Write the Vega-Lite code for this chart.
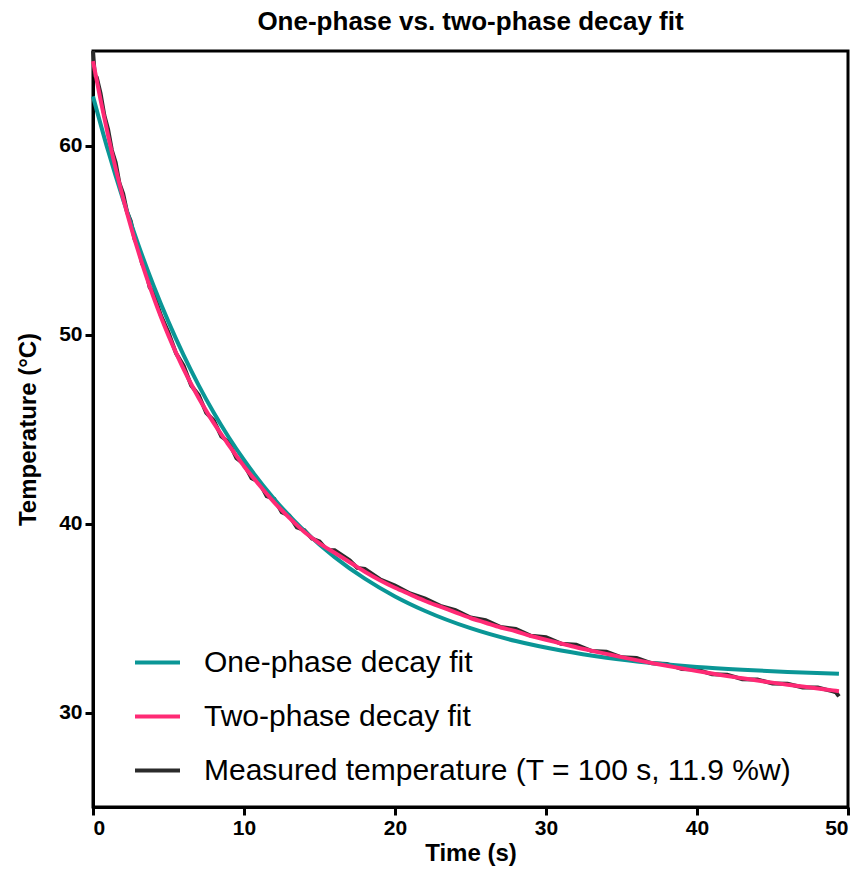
{
  "$schema": "https://vega.github.io/schema/vega-lite/v6.json",
  "autosize": "none",
  "padding": {"left": 93, "top": 51, "right": 12, "bottom": 63},
  "width": 755,
  "height": 756,
  "background": "white",
  "title": {
    "text": "One-phase vs. two-phase decay fit",
    "font": "Liberation Sans",
    "fontSize": 26,
    "fontWeight": "bold",
    "color": "black",
    "anchor": "middle",
    "offset": 8
  },
  "config": {
    "view": {"stroke": "black", "strokeWidth": 3},
    "axis": {
      "domainColor": "black",
      "domainWidth": 3,
      "tickColor": "black",
      "tickWidth": 3,
      "tickSize": 8,
      "grid": false,
      "labelColor": "black",
      "titleColor": "black"
    },
    "legend": {
      "orient": "none",
      "legendX": 40,
      "legendY": 587,
      "labelFont": "Liberation Sans",
      "labelFontSize": 30,
      "labelColor": "black",
      "symbolType": "stroke",
      "symbolSize": 2025,
      "symbolStrokeWidth": 4,
      "labelOffset": 22,
      "rowPadding": 14,
      "labelLimit": 800
    }
  },
  "datasets": {
    "curves": [
      {"series": "Measured temperature (T = 100 s, 11.9 %w)", "t": 0, "temp": 65.0},
      {"series": "Measured temperature (T = 100 s, 11.9 %w)", "t": 0.12, "temp": 63.7},
      {"series": "Measured temperature (T = 100 s, 11.9 %w)", "t": 0.25, "temp": 63.6},
      {"series": "Measured temperature (T = 100 s, 11.9 %w)", "t": 0.5, "temp": 62.75},
      {"series": "Measured temperature (T = 100 s, 11.9 %w)", "t": 0.75, "temp": 61.6},
      {"series": "Measured temperature (T = 100 s, 11.9 %w)", "t": 1.0, "temp": 60.85},
      {"series": "Measured temperature (T = 100 s, 11.9 %w)", "t": 1.25, "temp": 59.75},
      {"series": "Measured temperature (T = 100 s, 11.9 %w)", "t": 1.5, "temp": 59.1},
      {"series": "Measured temperature (T = 100 s, 11.9 %w)", "t": 1.75, "temp": 58.0},
      {"series": "Measured temperature (T = 100 s, 11.9 %w)", "t": 2.0, "temp": 57.45},
      {"series": "Measured temperature (T = 100 s, 11.9 %w)", "t": 2.25, "temp": 56.5},
      {"series": "Measured temperature (T = 100 s, 11.9 %w)", "t": 2.5, "temp": 56.0},
      {"series": "Measured temperature (T = 100 s, 11.9 %w)", "t": 2.75, "temp": 55.05},
      {"series": "Measured temperature (T = 100 s, 11.9 %w)", "t": 3.0, "temp": 54.65},
      {"series": "Measured temperature (T = 100 s, 11.9 %w)", "t": 3.25, "temp": 53.75},
      {"series": "Measured temperature (T = 100 s, 11.9 %w)", "t": 3.5, "temp": 53.4},
      {"series": "Measured temperature (T = 100 s, 11.9 %w)", "t": 3.75, "temp": 52.5},
      {"series": "Measured temperature (T = 100 s, 11.9 %w)", "t": 4.0, "temp": 52.2},
      {"series": "Measured temperature (T = 100 s, 11.9 %w)", "t": 4.5, "temp": 51.0},
      {"series": "Measured temperature (T = 100 s, 11.9 %w)", "t": 5.0, "temp": 50.1},
      {"series": "Measured temperature (T = 100 s, 11.9 %w)", "t": 5.5, "temp": 49.0},
      {"series": "Measured temperature (T = 100 s, 11.9 %w)", "t": 6.0, "temp": 48.35},
      {"series": "Measured temperature (T = 100 s, 11.9 %w)", "t": 6.5, "temp": 47.3},
      {"series": "Measured temperature (T = 100 s, 11.9 %w)", "t": 7.0, "temp": 46.8},
      {"series": "Measured temperature (T = 100 s, 11.9 %w)", "t": 7.5, "temp": 45.85},
      {"series": "Measured temperature (T = 100 s, 11.9 %w)", "t": 8.0, "temp": 45.45},
      {"series": "Measured temperature (T = 100 s, 11.9 %w)", "t": 8.5, "temp": 44.6},
      {"series": "Measured temperature (T = 100 s, 11.9 %w)", "t": 9.0, "temp": 44.3},
      {"series": "Measured temperature (T = 100 s, 11.9 %w)", "t": 9.5, "temp": 43.45},
      {"series": "Measured temperature (T = 100 s, 11.9 %w)", "t": 10, "temp": 43.15},
      {"series": "Measured temperature (T = 100 s, 11.9 %w)", "t": 10.5, "temp": 42.4},
      {"series": "Measured temperature (T = 100 s, 11.9 %w)", "t": 11, "temp": 42.2},
      {"series": "Measured temperature (T = 100 s, 11.9 %w)", "t": 11.5, "temp": 41.45},
      {"series": "Measured temperature (T = 100 s, 11.9 %w)", "t": 12, "temp": 41.3},
      {"series": "Measured temperature (T = 100 s, 11.9 %w)", "t": 12.5, "temp": 40.6},
      {"series": "Measured temperature (T = 100 s, 11.9 %w)", "t": 13, "temp": 40.42},
      {"series": "Measured temperature (T = 100 s, 11.9 %w)", "t": 13.5, "temp": 39.8},
      {"series": "Measured temperature (T = 100 s, 11.9 %w)", "t": 14, "temp": 39.65},
      {"series": "Measured temperature (T = 100 s, 11.9 %w)", "t": 14.5, "temp": 39.2},
      {"series": "Measured temperature (T = 100 s, 11.9 %w)", "t": 15, "temp": 39.05},
      {"series": "Measured temperature (T = 100 s, 11.9 %w)", "t": 15.5, "temp": 38.6},
      {"series": "Measured temperature (T = 100 s, 11.9 %w)", "t": 16, "temp": 38.58},
      {"series": "Measured temperature (T = 100 s, 11.9 %w)", "t": 17, "temp": 38.05},
      {"series": "Measured temperature (T = 100 s, 11.9 %w)", "t": 17.5, "temp": 37.65},
      {"series": "Measured temperature (T = 100 s, 11.9 %w)", "t": 18, "temp": 37.6},
      {"series": "Measured temperature (T = 100 s, 11.9 %w)", "t": 19, "temp": 37.05},
      {"series": "Measured temperature (T = 100 s, 11.9 %w)", "t": 20, "temp": 36.72},
      {"series": "Measured temperature (T = 100 s, 11.9 %w)", "t": 21, "temp": 36.3},
      {"series": "Measured temperature (T = 100 s, 11.9 %w)", "t": 22, "temp": 36.02},
      {"series": "Measured temperature (T = 100 s, 11.9 %w)", "t": 23, "temp": 35.64},
      {"series": "Measured temperature (T = 100 s, 11.9 %w)", "t": 24, "temp": 35.42},
      {"series": "Measured temperature (T = 100 s, 11.9 %w)", "t": 25, "temp": 35.03},
      {"series": "Measured temperature (T = 100 s, 11.9 %w)", "t": 26, "temp": 34.88},
      {"series": "Measured temperature (T = 100 s, 11.9 %w)", "t": 27, "temp": 34.52},
      {"series": "Measured temperature (T = 100 s, 11.9 %w)", "t": 28, "temp": 34.42},
      {"series": "Measured temperature (T = 100 s, 11.9 %w)", "t": 29, "temp": 34.06},
      {"series": "Measured temperature (T = 100 s, 11.9 %w)", "t": 30, "temp": 33.98},
      {"series": "Measured temperature (T = 100 s, 11.9 %w)", "t": 31, "temp": 33.64},
      {"series": "Measured temperature (T = 100 s, 11.9 %w)", "t": 32, "temp": 33.58},
      {"series": "Measured temperature (T = 100 s, 11.9 %w)", "t": 33, "temp": 33.26},
      {"series": "Measured temperature (T = 100 s, 11.9 %w)", "t": 34, "temp": 33.22},
      {"series": "Measured temperature (T = 100 s, 11.9 %w)", "t": 35, "temp": 32.92},
      {"series": "Measured temperature (T = 100 s, 11.9 %w)", "t": 36, "temp": 32.88},
      {"series": "Measured temperature (T = 100 s, 11.9 %w)", "t": 37, "temp": 32.6},
      {"series": "Measured temperature (T = 100 s, 11.9 %w)", "t": 38, "temp": 32.57},
      {"series": "Measured temperature (T = 100 s, 11.9 %w)", "t": 39, "temp": 32.3},
      {"series": "Measured temperature (T = 100 s, 11.9 %w)", "t": 40, "temp": 32.27},
      {"series": "Measured temperature (T = 100 s, 11.9 %w)", "t": 41, "temp": 32.02},
      {"series": "Measured temperature (T = 100 s, 11.9 %w)", "t": 42, "temp": 32.0},
      {"series": "Measured temperature (T = 100 s, 11.9 %w)", "t": 43, "temp": 31.76},
      {"series": "Measured temperature (T = 100 s, 11.9 %w)", "t": 44, "temp": 31.75},
      {"series": "Measured temperature (T = 100 s, 11.9 %w)", "t": 45, "temp": 31.53},
      {"series": "Measured temperature (T = 100 s, 11.9 %w)", "t": 46, "temp": 31.52},
      {"series": "Measured temperature (T = 100 s, 11.9 %w)", "t": 47, "temp": 31.32},
      {"series": "Measured temperature (T = 100 s, 11.9 %w)", "t": 48, "temp": 31.32},
      {"series": "Measured temperature (T = 100 s, 11.9 %w)", "t": 49, "temp": 31.12},
      {"series": "Measured temperature (T = 100 s, 11.9 %w)", "t": 49.2, "temp": 31.07},
      {"series": "Measured temperature (T = 100 s, 11.9 %w)", "t": 49.4, "temp": 30.85},

      {"series": "One-phase decay fit", "t": 0, "temp": 62.6},
      {"series": "One-phase decay fit", "t": 1, "temp": 59.72},
      {"series": "One-phase decay fit", "t": 2, "temp": 57.12},
      {"series": "One-phase decay fit", "t": 3, "temp": 54.75},
      {"series": "One-phase decay fit", "t": 4, "temp": 52.61},
      {"series": "One-phase decay fit", "t": 5, "temp": 50.67},
      {"series": "One-phase decay fit", "t": 6, "temp": 48.91},
      {"series": "One-phase decay fit", "t": 7, "temp": 47.31},
      {"series": "One-phase decay fit", "t": 8, "temp": 45.86},
      {"series": "One-phase decay fit", "t": 9, "temp": 44.55},
      {"series": "One-phase decay fit", "t": 10, "temp": 43.36},
      {"series": "One-phase decay fit", "t": 12, "temp": 41.3},
      {"series": "One-phase decay fit", "t": 14, "temp": 39.61},
      {"series": "One-phase decay fit", "t": 16, "temp": 38.22},
      {"series": "One-phase decay fit", "t": 18, "temp": 37.08},
      {"series": "One-phase decay fit", "t": 20, "temp": 36.14},
      {"series": "One-phase decay fit", "t": 22, "temp": 35.37},
      {"series": "One-phase decay fit", "t": 25, "temp": 34.46},
      {"series": "One-phase decay fit", "t": 28, "temp": 33.78},
      {"series": "One-phase decay fit", "t": 31, "temp": 33.28},
      {"series": "One-phase decay fit", "t": 34, "temp": 32.9},
      {"series": "One-phase decay fit", "t": 37, "temp": 32.62},
      {"series": "One-phase decay fit", "t": 40, "temp": 32.41},
      {"series": "One-phase decay fit", "t": 43, "temp": 32.26},
      {"series": "One-phase decay fit", "t": 46, "temp": 32.14},
      {"series": "One-phase decay fit", "t": 49.4, "temp": 32.05},

      {"series": "Two-phase decay fit", "t": 0, "temp": 64.46},
      {"series": "Two-phase decay fit", "t": 0.5, "temp": 62.41},
      {"series": "Two-phase decay fit", "t": 1, "temp": 60.52},
      {"series": "Two-phase decay fit", "t": 1.5, "temp": 58.79},
      {"series": "Two-phase decay fit", "t": 2, "temp": 57.2},
      {"series": "Two-phase decay fit", "t": 2.5, "temp": 55.73},
      {"series": "Two-phase decay fit", "t": 3, "temp": 54.39},
      {"series": "Two-phase decay fit", "t": 3.5, "temp": 53.14},
      {"series": "Two-phase decay fit", "t": 4, "temp": 51.99},
      {"series": "Two-phase decay fit", "t": 4.5, "temp": 50.92},
      {"series": "Two-phase decay fit", "t": 5, "temp": 49.94},
      {"series": "Two-phase decay fit", "t": 5.5, "temp": 49.03},
      {"series": "Two-phase decay fit", "t": 6, "temp": 48.17},
      {"series": "Two-phase decay fit", "t": 6.5, "temp": 47.38},
      {"series": "Two-phase decay fit", "t": 7, "temp": 46.64},
      {"series": "Two-phase decay fit", "t": 7.5, "temp": 45.96},
      {"series": "Two-phase decay fit", "t": 8, "temp": 45.31},
      {"series": "Two-phase decay fit", "t": 8.5, "temp": 44.71},
      {"series": "Two-phase decay fit", "t": 9, "temp": 44.14},
      {"series": "Two-phase decay fit", "t": 9.5, "temp": 43.58},
      {"series": "Two-phase decay fit", "t": 10, "temp": 43.03},
      {"series": "Two-phase decay fit", "t": 11, "temp": 42.05},
      {"series": "Two-phase decay fit", "t": 12, "temp": 41.12},
      {"series": "Two-phase decay fit", "t": 13, "temp": 40.3},
      {"series": "Two-phase decay fit", "t": 14, "temp": 39.55},
      {"series": "Two-phase decay fit", "t": 15, "temp": 38.95},
      {"series": "Two-phase decay fit", "t": 16, "temp": 38.45},
      {"series": "Two-phase decay fit", "t": 17, "temp": 37.95},
      {"series": "Two-phase decay fit", "t": 18, "temp": 37.45},
      {"series": "Two-phase decay fit", "t": 19, "temp": 37.0},
      {"series": "Two-phase decay fit", "t": 20, "temp": 36.6},
      {"series": "Two-phase decay fit", "t": 21, "temp": 36.25},
      {"series": "Two-phase decay fit", "t": 22, "temp": 35.9},
      {"series": "Two-phase decay fit", "t": 23, "temp": 35.6},
      {"series": "Two-phase decay fit", "t": 24, "temp": 35.3},
      {"series": "Two-phase decay fit", "t": 25, "temp": 35.0},
      {"series": "Two-phase decay fit", "t": 26, "temp": 34.75},
      {"series": "Two-phase decay fit", "t": 27, "temp": 34.5},
      {"series": "Two-phase decay fit", "t": 28, "temp": 34.3},
      {"series": "Two-phase decay fit", "t": 29, "temp": 34.05},
      {"series": "Two-phase decay fit", "t": 30, "temp": 33.85},
      {"series": "Two-phase decay fit", "t": 31, "temp": 33.65},
      {"series": "Two-phase decay fit", "t": 32, "temp": 33.45},
      {"series": "Two-phase decay fit", "t": 33, "temp": 33.27},
      {"series": "Two-phase decay fit", "t": 34, "temp": 33.1},
      {"series": "Two-phase decay fit", "t": 35, "temp": 32.93},
      {"series": "Two-phase decay fit", "t": 36, "temp": 32.77},
      {"series": "Two-phase decay fit", "t": 37, "temp": 32.62},
      {"series": "Two-phase decay fit", "t": 38, "temp": 32.47},
      {"series": "Two-phase decay fit", "t": 39, "temp": 32.33},
      {"series": "Two-phase decay fit", "t": 40, "temp": 32.19},
      {"series": "Two-phase decay fit", "t": 41, "temp": 32.06},
      {"series": "Two-phase decay fit", "t": 42, "temp": 31.93},
      {"series": "Two-phase decay fit", "t": 43, "temp": 31.81},
      {"series": "Two-phase decay fit", "t": 44, "temp": 31.69},
      {"series": "Two-phase decay fit", "t": 45, "temp": 31.58},
      {"series": "Two-phase decay fit", "t": 46, "temp": 31.47},
      {"series": "Two-phase decay fit", "t": 47, "temp": 31.37},
      {"series": "Two-phase decay fit", "t": 48, "temp": 31.27},
      {"series": "Two-phase decay fit", "t": 49, "temp": 31.17},
      {"series": "Two-phase decay fit", "t": 49.4, "temp": 31.13}
    ]
  },
  "data": {"name": "curves"},
  "encoding": {
    "x": {
      "field": "t",
      "type": "quantitative",
      "title": "Time (s)",
      "scale": {"domain": [0, 50], "nice": false, "zero": false},
      "axis": {
        "values": [0, 10, 20, 30, 40, 50],
        "labelFont": "Liberation Sans", "labelFontSize": 21, "labelFontWeight": "bold",
        "titleFont": "Liberation Sans", "titleFontSize": 24, "titleFontWeight": "bold",
        "labelPadding": 2, "titlePadding": 3
      }
    },
    "y": {
      "field": "temp",
      "type": "quantitative",
      "title": "Temperature (°C)",
      "scale": {"domain": [25, 65], "nice": false, "zero": false},
      "axis": {
        "values": [30, 40, 50, 60],
        "labelFont": "Liberation Sans", "labelFontSize": 21, "labelFontWeight": "bold",
        "titleFont": "Liberation Sans", "titleFontSize": 24, "titleFontWeight": "bold",
        "labelPadding": 3, "titlePadding": 18
      }
    },
    "color": {
      "field": "series",
      "type": "nominal",
      "title": null,
      "scale": {
        "domain": ["One-phase decay fit", "Two-phase decay fit", "Measured temperature (T = 100 s, 11.9 %w)"],
        "range": ["#0a9696", "#ff2a75", "#2b2b2b"]
      }
    },
    "strokeWidth": {
      "field": "series",
      "type": "nominal",
      "title": null,
      "scale": {
        "domain": ["One-phase decay fit", "Two-phase decay fit", "Measured temperature (T = 100 s, 11.9 %w)"],
        "range": [4, 4, 7]
      }
    }
  },
  "layer": [
    {
      "transform": [{"filter": "datum.series === 'Measured temperature (T = 100 s, 11.9 %w)'"}],
      "mark": {"type": "line", "interpolate": "linear", "strokeJoin": "miter"}
    },
    {
      "transform": [{"filter": "datum.series === 'One-phase decay fit'"}],
      "mark": {"type": "line", "interpolate": "monotone"}
    },
    {
      "transform": [{"filter": "datum.series === 'Two-phase decay fit'"}],
      "mark": {"type": "line", "interpolate": "monotone"}
    }
  ]
}
